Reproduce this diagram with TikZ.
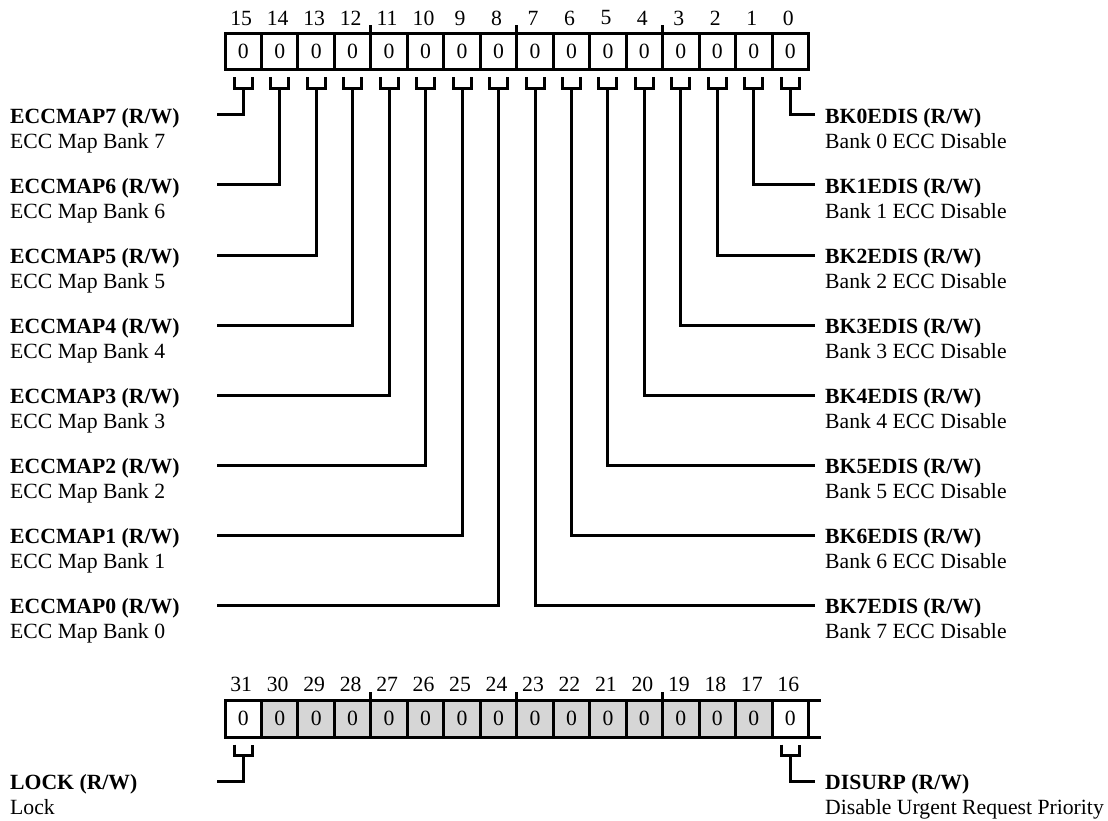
\documentclass[tikz,border=0pt]{standalone}
\usepackage{fontspec}
\setmainfont{Liberation Serif}
\definecolor{rsvgray}{RGB}{214,214,214}
\begin{document}
\begin{tikzpicture}[x=1pt,y=1pt,
  every node/.style={font=\fontsize{21.7}{25}\selectfont, inner sep=0pt},
  cell/.style={draw, line width=3pt, outer sep=0pt, minimum width=36.47pt, minimum height=36.5pt},
  reserved/.style={cell, fill=rsvgray},
  fname/.style={font=\fontsize{21.7}{25}\selectfont\bfseries, text height=16.6pt, text depth=0pt, anchor=west},
  fdesc/.style={anchor=base west},
  wire/.style={line width=3pt, line join=miter},
]
\useasboundingbox (0,0) rectangle (1108,-821);

% ---------- top register (bits 15..0)
\foreach \i in {0,...,15}{
  \pgfmathsetmacro\cx{225+(15-\i+0.5)*36.47}
  \node[cell] (c\i) at (\cx,-51.75) {0};
  \node (t\i) at (\cx-2,-18) {\i};
}
\foreach \k in {4,8,12}{
  \draw[wire] (c\k.north east) -- ++(0,8.5);
}

% left fields: bits 15..8 -> ECCMAP7..0
\foreach \i in {8,...,15}{
  \pgfmathtruncatemacro\j{\i-8}
  \pgfmathsetmacro\yy{-(115+(15-\i)*70)}
  \draw[wire] ([xshift=-9pt,yshift=-7.5pt]c\i.south) -- ++(0,-11) -- ++(18,0) -- ++(0,11);
  \coordinate (a\i) at (217,\yy);
  \draw[wire] ([yshift=-18.5pt]c\i.south) |- (a\i);
  \node[fname] (n\i) at (10,\yy) {ECCMAP\j\ (R/W)};
  \node[fdesc] (d\i) at (10,\yy-33.3) {ECC Map Bank \j};
}

% right fields: bits 0..7 -> BK0EDIS..BK7EDIS
\foreach \i in {0,...,7}{
  \pgfmathsetmacro\yy{-(115+\i*70)}
  \draw[wire] ([xshift=-9pt,yshift=-7.5pt]c\i.south) -- ++(0,-11) -- ++(18,0) -- ++(0,11);
  \node[fname] (n\i) at (825,\yy) {BK\i EDIS (R/W)};
  \node[fdesc] (d\i) at (825,\yy-33.3) {Bank \i\ ECC Disable};
  \draw[wire] ([yshift=-18.5pt]c\i.south) |- ([xshift=-10pt]n\i.west);
}

% ---------- bottom register (bits 31..16)
\foreach \i in {16,...,31}{
  \pgfmathsetmacro\cx{225+(31-\i+0.5)*36.47}
  \ifnum\i=16
    \node[cell, minimum height=37pt] (b\i) at (\cx,-718.5) {0};
  \else\ifnum\i=31
    \node[cell, minimum height=37pt] (b\i) at (\cx,-718.5) {0};
  \else
    \node[reserved, minimum height=37pt] (b\i) at (\cx,-718.5) {0};
  \fi\fi
  \node (t\i) at (\cx-2,-684) {\i};
}
\foreach \k in {20,24,28}{
  \draw[wire] (b\k.north east) -- ++(0,8);
}
\draw[wire] (b16.north east) -- ++(12.5,0);
\draw[wire] (b16.south east) -- ++(12.5,0);

% LOCK (bit 31)
\draw[wire] ([xshift=-9pt,yshift=-7.5pt]b31.south) -- ++(0,-11) -- ++(18,0) -- ++(0,11);
\coordinate (a31) at (217,-781);
\draw[wire] ([yshift=-18.5pt]b31.south) |- (a31);
\node[fname] (n31) at (10,-781) {LOCK (R/W)};
\node[fdesc] (d31) at (10,-814.3) {Lock};

% DISURP (bit 16)
\draw[wire] ([xshift=-9pt,yshift=-7.5pt]b16.south) -- ++(0,-11) -- ++(18,0) -- ++(0,11);
\node[fname] (n16) at (825,-781) {DISURP (R/W)};
\node[fdesc] (d16) at (825,-814.3) {Disable Urgent Request Priority};
\draw[wire] ([yshift=-18.5pt]b16.south) |- ([xshift=-10pt]n16.west);
\end{tikzpicture}
\end{document}
